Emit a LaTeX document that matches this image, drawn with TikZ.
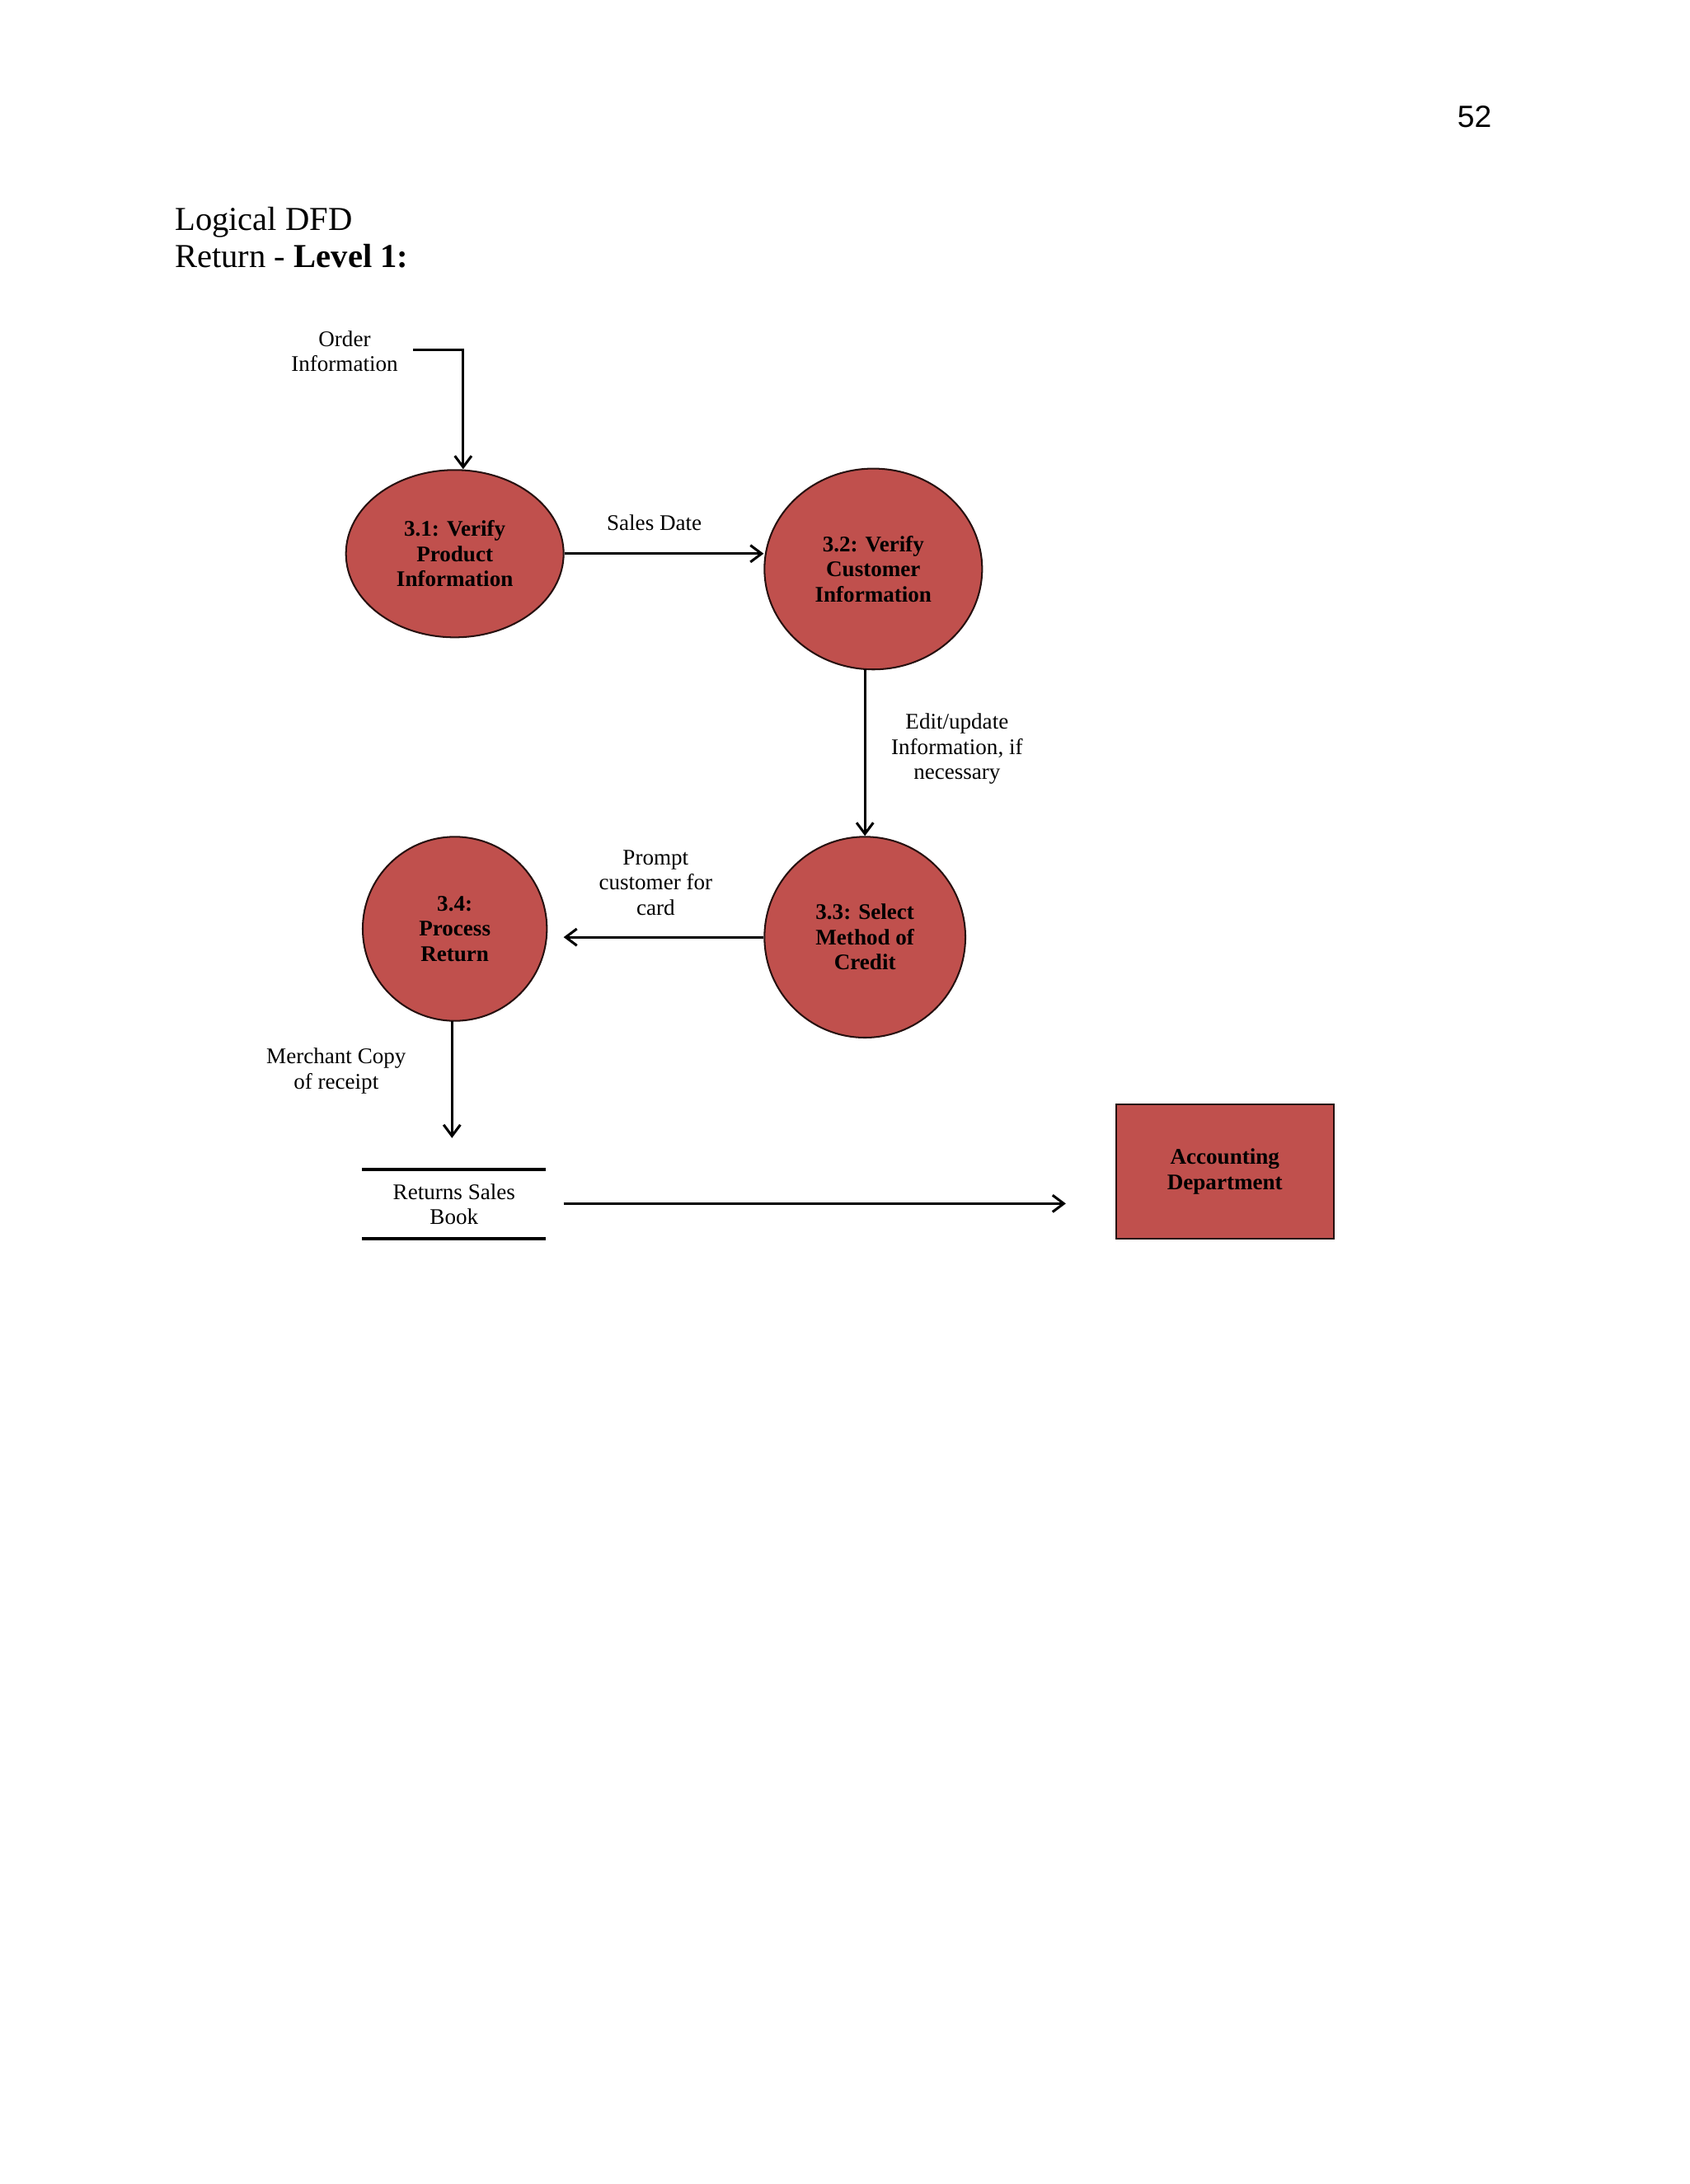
\documentclass[tikz,border=0pt]{standalone}
\usepackage{fontspec}
\setmainfont{Liberation Serif}
\newfontfamily\arialf{Liberation Sans}
\usetikzlibrary{arrows.meta}
\definecolor{procred}{HTML}{C0504D}
\tikzset{
  proc/.style={ellipse,draw=black!80!procred,line width=0.6pt,fill=procred,font=\fontsize{8}{9}\selectfont\bfseries,align=center,inner sep=0pt},
  lbl/.style={font=\fontsize{8}{9}\selectfont,align=center},
  flow/.style={line width=0.9pt,-{Straight Barb[length=4pt,width=6pt]}}
}
\usetikzlibrary{shapes.geometric}
\begin{document}
\begin{tikzpicture}[x=0.5pt,y=-0.5pt]
\useasboundingbox (0,0) rectangle (1211,1566);
\node[font=\arialf\fontsize{11}{13}\selectfont] (pg) at (1057,84) {52};
\node[anchor=base west,font=\fontsize{12}{14}\selectfont,inner sep=0] (t1) at (125,165) {Logical DFD};
\node[anchor=base west,font=\fontsize{12}{14}\selectfont,inner sep=0] (t2) at (125,192) {Return - \textbf{Level 1:}};

\node[proc,minimum width=156\pgflinewidth*0+78pt,minimum height=60pt] (p1) at (326,397) {3.1: Verify\\Product\\Information};
\node[proc,minimum width=78pt,minimum height=72pt] (p2) at (626,408) {3.2: Verify\\Customer\\Information};
\node[proc,minimum width=72pt,minimum height=72pt] (p3) at (620,672) {3.3: Select\\Method of\\Credit};
\node[proc,minimum width=66pt,minimum height=66pt] (p4) at (326,666) {3.4:\\Process\\Return};

\node[lbl] (oi) at (247,252) {Order\\Information};
\coordinate (oie) at (296,251);
\draw[flow] (oie) -- (332,251) -- (p1.north -| 332,0);
\node[lbl] (sd) at (469,375) {Sales Date};
\draw[flow] (p1.east) -- (p2.west |- p1.east);
\node[lbl] (eu) at (686,537) {Edit/update\\Information, if\\necessary};
\draw[flow] (620,480) -- (p3.north);
\node[lbl] (pc) at (470,633) {Prompt\\customer for\\card};
\draw[flow] (p3.west) -- (404,672);
\node[lbl] (mc) at (241,768) {Merchant Copy\\of receipt};
\draw[flow] (324,732) -- (324,816);

\node[lbl,minimum width=65.5pt,minimum height=24.5pt] (ds) at (325.5,863.5) {Returns Sales\\Book};
\draw[line width=1.2pt] (ds.north west) -- (ds.north east) (ds.south west) -- (ds.south east);
\node[draw=black!80!procred,line width=0.6pt,fill=procred,minimum width=78pt,minimum height=48pt,font=\fontsize{8}{9}\selectfont\bfseries,align=center] (acc) at (878,840) {Accounting\\Department};
\draw[flow] (404,863) -- (764,863);
\end{tikzpicture}
\end{document}
